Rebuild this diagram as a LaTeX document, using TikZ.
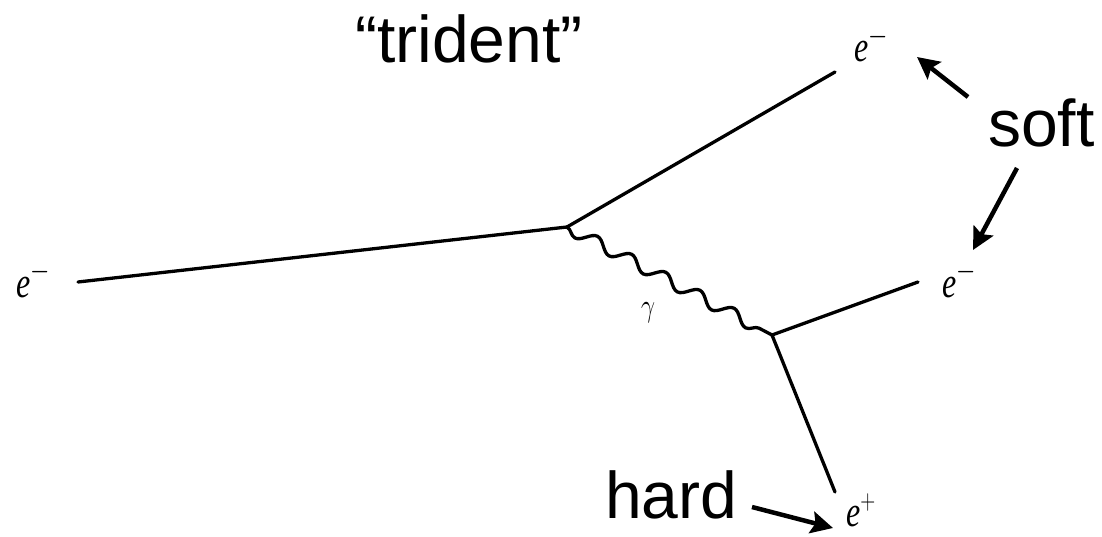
\documentclass[tikz,border=0pt]{standalone}
\usepackage{fontspec}
\newfontfamily\labelfont{Liberation Sans}
\newfontfamily\partfont{Liberation Serif}
\usetikzlibrary{arrows.meta,decorations.pathmorphing}
\newcommand{\partlabel}[3]{\scalebox{1}[1.35]{\textit{#1}\raisebox{12pt}{\fontsize{#3}{#3}\selectfont$#2$}}}
\begin{document}
\begin{tikzpicture}[x=1pt,y=-1pt,
  fermion/.style={line width=3.3pt,line cap=round},
  photon/.style={line width=3.3pt,decorate,decoration={snake,amplitude=-6pt,segment length=38.6pt}},
  particle/.style={inner sep=0pt,anchor=base west,font=\partfont\fontsize{32}{32}\selectfont},
  bigtext/.style={inner sep=0pt,anchor=base west,font=\labelfont\fontsize{66}{66}\selectfont},
  pointer/.style={line width=4.5pt,-{Stealth[length=22pt,width=22pt,inset=4pt]}}]
\useasboundingbox (0,0) rectangle (1102,537);
% vertices and line ends
\coordinate (in) at (78,282);
\coordinate (v1) at (567,227);
\coordinate (out1) at (835,72);
\coordinate (v2) at (772,335);
\coordinate (out2) at (918,282);
\coordinate (out3) at (835,492);
% lines
\draw[fermion] (in) -- (v1);
\draw[fermion] (v1) -- (out1);
\draw[fermion] (v2) -- (out2);
\draw[fermion] (v2) -- (out3);
\draw[photon] (v1) -- (v2);
% particle labels
\node[particle] (ein) at (16,297) {\partlabel{e}{-}{26}};
\node[particle] (eout1) at (854,62) {\partlabel{e}{-}{26}};
\node[particle] (eout2) at (942,297) {\partlabel{e}{-}{26}};
\node[particle] (epos) at (846,526) {\partlabel{e}{+}{21}};
\node[inner sep=0pt,font=\fontsize{30}{30}\selectfont] (gam) at (648,313) {\scalebox{1}[1.3]{$\gamma$}};
% annotations
\node[bigtext] (trident) at (355,63) {“trident”};
\node[bigtext] (soft) at (988,147) {soft};
\node[bigtext] (hard) at (605,518) {hard};
\coordinate (s1a) at (968,97);
\coordinate (s1b) at (917,57);
\coordinate (s2a) at (1017,168);
\coordinate (s2b) at (973,250);
\coordinate (ha) at (752,507);
\coordinate (hb) at (833,528);
\draw[pointer] (s1a) -- (s1b);
\draw[pointer] (s2a) -- (s2b);
\draw[pointer] (ha) -- (hb);
\end{tikzpicture}
\end{document}
